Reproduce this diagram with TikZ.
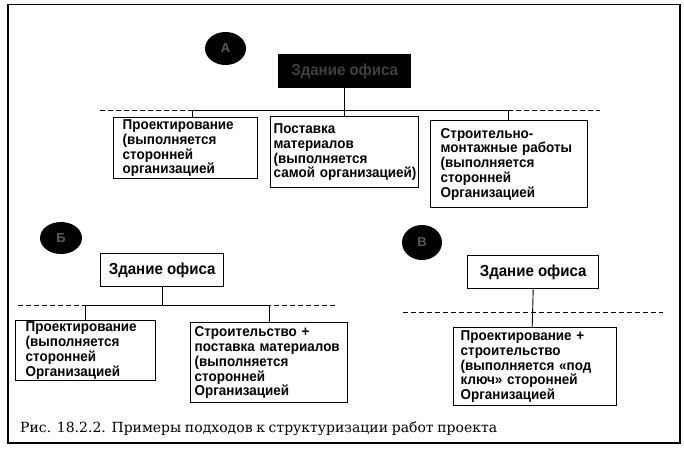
\documentclass[tikz,border=0pt]{standalone}
\usepackage{fontspec}
\setmainfont{Liberation Sans}
\newfontfamily\boxfont[FakeStretch=0.94]{Liberation Sans}
\newfontfamily\capfont{DejaVu Serif}
\usetikzlibrary{shapes.geometric}
\begin{document}
\begin{tikzpicture}[x=1pt,y=-1pt,
  box/.style={draw, line width=1.4pt, anchor=north west, align=left, fill=white,
    font=\boxfont\bfseries\fontsize{14.3}{14.8}\selectfont, inner ysep=1pt},
  head/.style={draw, line width=1.4pt, anchor=north west, align=center, fill=white,
    font=\boxfont\bfseries\fontsize{16}{16}\selectfont, inner sep=0pt},
  blob/.style={ellipse, fill=black, inner sep=0pt,
    font=\bfseries\fontsize{13}{13}\selectfont, text=black!65},
  link/.style={line width=0.9pt},
  dashline/.style={line width=0.9pt, dash pattern=on 5pt off 3pt}]
\useasboundingbox (0,0) rectangle (684,448);
% frame
\draw[line width=1.2pt] (8,4.5) rectangle (680,443);

% ---------- variant A ----------
\node[blob, minimum width=41pt, minimum height=33pt] (cA) at (225.5,48.5) {А};
\node[head, fill=black, text=black!75, minimum width=132pt, minimum height=33pt] (T) at (278,54) {Здание офиса};
\node[box, inner xsep=9pt, text width=126pt, minimum height=61pt] (A1) at (113,117)
  {Проектирование\\(выполняется\\сторонней\\организацией};
\node[box, inner xsep=3pt, text width=142pt, minimum height=71pt] (A2) at (270,116)
  {Поставка\\материалов\\(выполняется\\самой~организацией)};
\node[box, inner xsep=10pt, text width=137pt, minimum height=87pt] (A3) at (430,120)
  {Строительно-\\монтажные~работы\\(выполняется\\сторонней\\Организацией};
\coordinate (dA1) at (100,110);
\coordinate (dA2) at (600,110);
\draw[dashline] (dA1) -- (dA2);
\draw[link] (T.south) -- (T.south |- dA1);
\draw[link] ([xshift=7pt]A1.north) |- ([xshift=-1pt]A3.north |- dA1) -- ([xshift=-1pt]A3.north);
\draw[link] (A2.north) -- (A2.north |- dA1);

% ---------- variant B ----------
\node[blob, minimum width=42pt, minimum height=32pt] (cB) at (61,238) {Б};
\node[head, minimum width=123pt, minimum height=33pt] (B) at (100,253) {Здание офиса};
\node[box, inner xsep=10pt, text width=120pt, minimum height=60pt] (B1) at (15,320)
  {Проектирование\\(выполняется\\сторонней\\Организацией};
\node[box, inner xsep=4pt, text width=149pt, minimum height=80pt] (B2) at (190,322)
  {Строительство~+\\поставка~материалов\\(выполняется\\сторонней\\Организацией};
\coordinate (dB1) at (18,305);
\coordinate (dB2) at (335,305);
\draw[dashline] (dB1) -- (dB2);
\draw[link] (B.south) -- (B.south |- dB1);
\draw[link] (B1.north) |- (B2.north |- dB1) -- (B2.north);

% ---------- variant C ----------
\node[blob, minimum width=40pt, minimum height=35pt] (cC) at (422,242.5) {В};
\node[head, minimum width=131pt, minimum height=33pt] (C) at (467,255) {Здание офиса};
\node[box, inner xsep=7pt, text width=149pt, minimum height=78pt] (C1) at (453,327)
  {Проектирование~+\\строительство\\(выполняется~«под\\ключ»~сторонней\\Организацией};
\coordinate (dC1) at (403,312);
\coordinate (dC2) at (663,312);
\draw[dashline] (dC1) -- (dC2);
\draw[link] (C.south) -- ([xshift=-3pt]C1.north);

% caption
\node[anchor=base west, inner sep=0pt, font=\capfont\fontsize{14}{14}\selectfont] (cap) at (20,432)
  {\makebox[477pt][s]{Рис. 18.2.2. Примеры подходов к структуризации работ проекта}};
\end{tikzpicture}
\end{document}
